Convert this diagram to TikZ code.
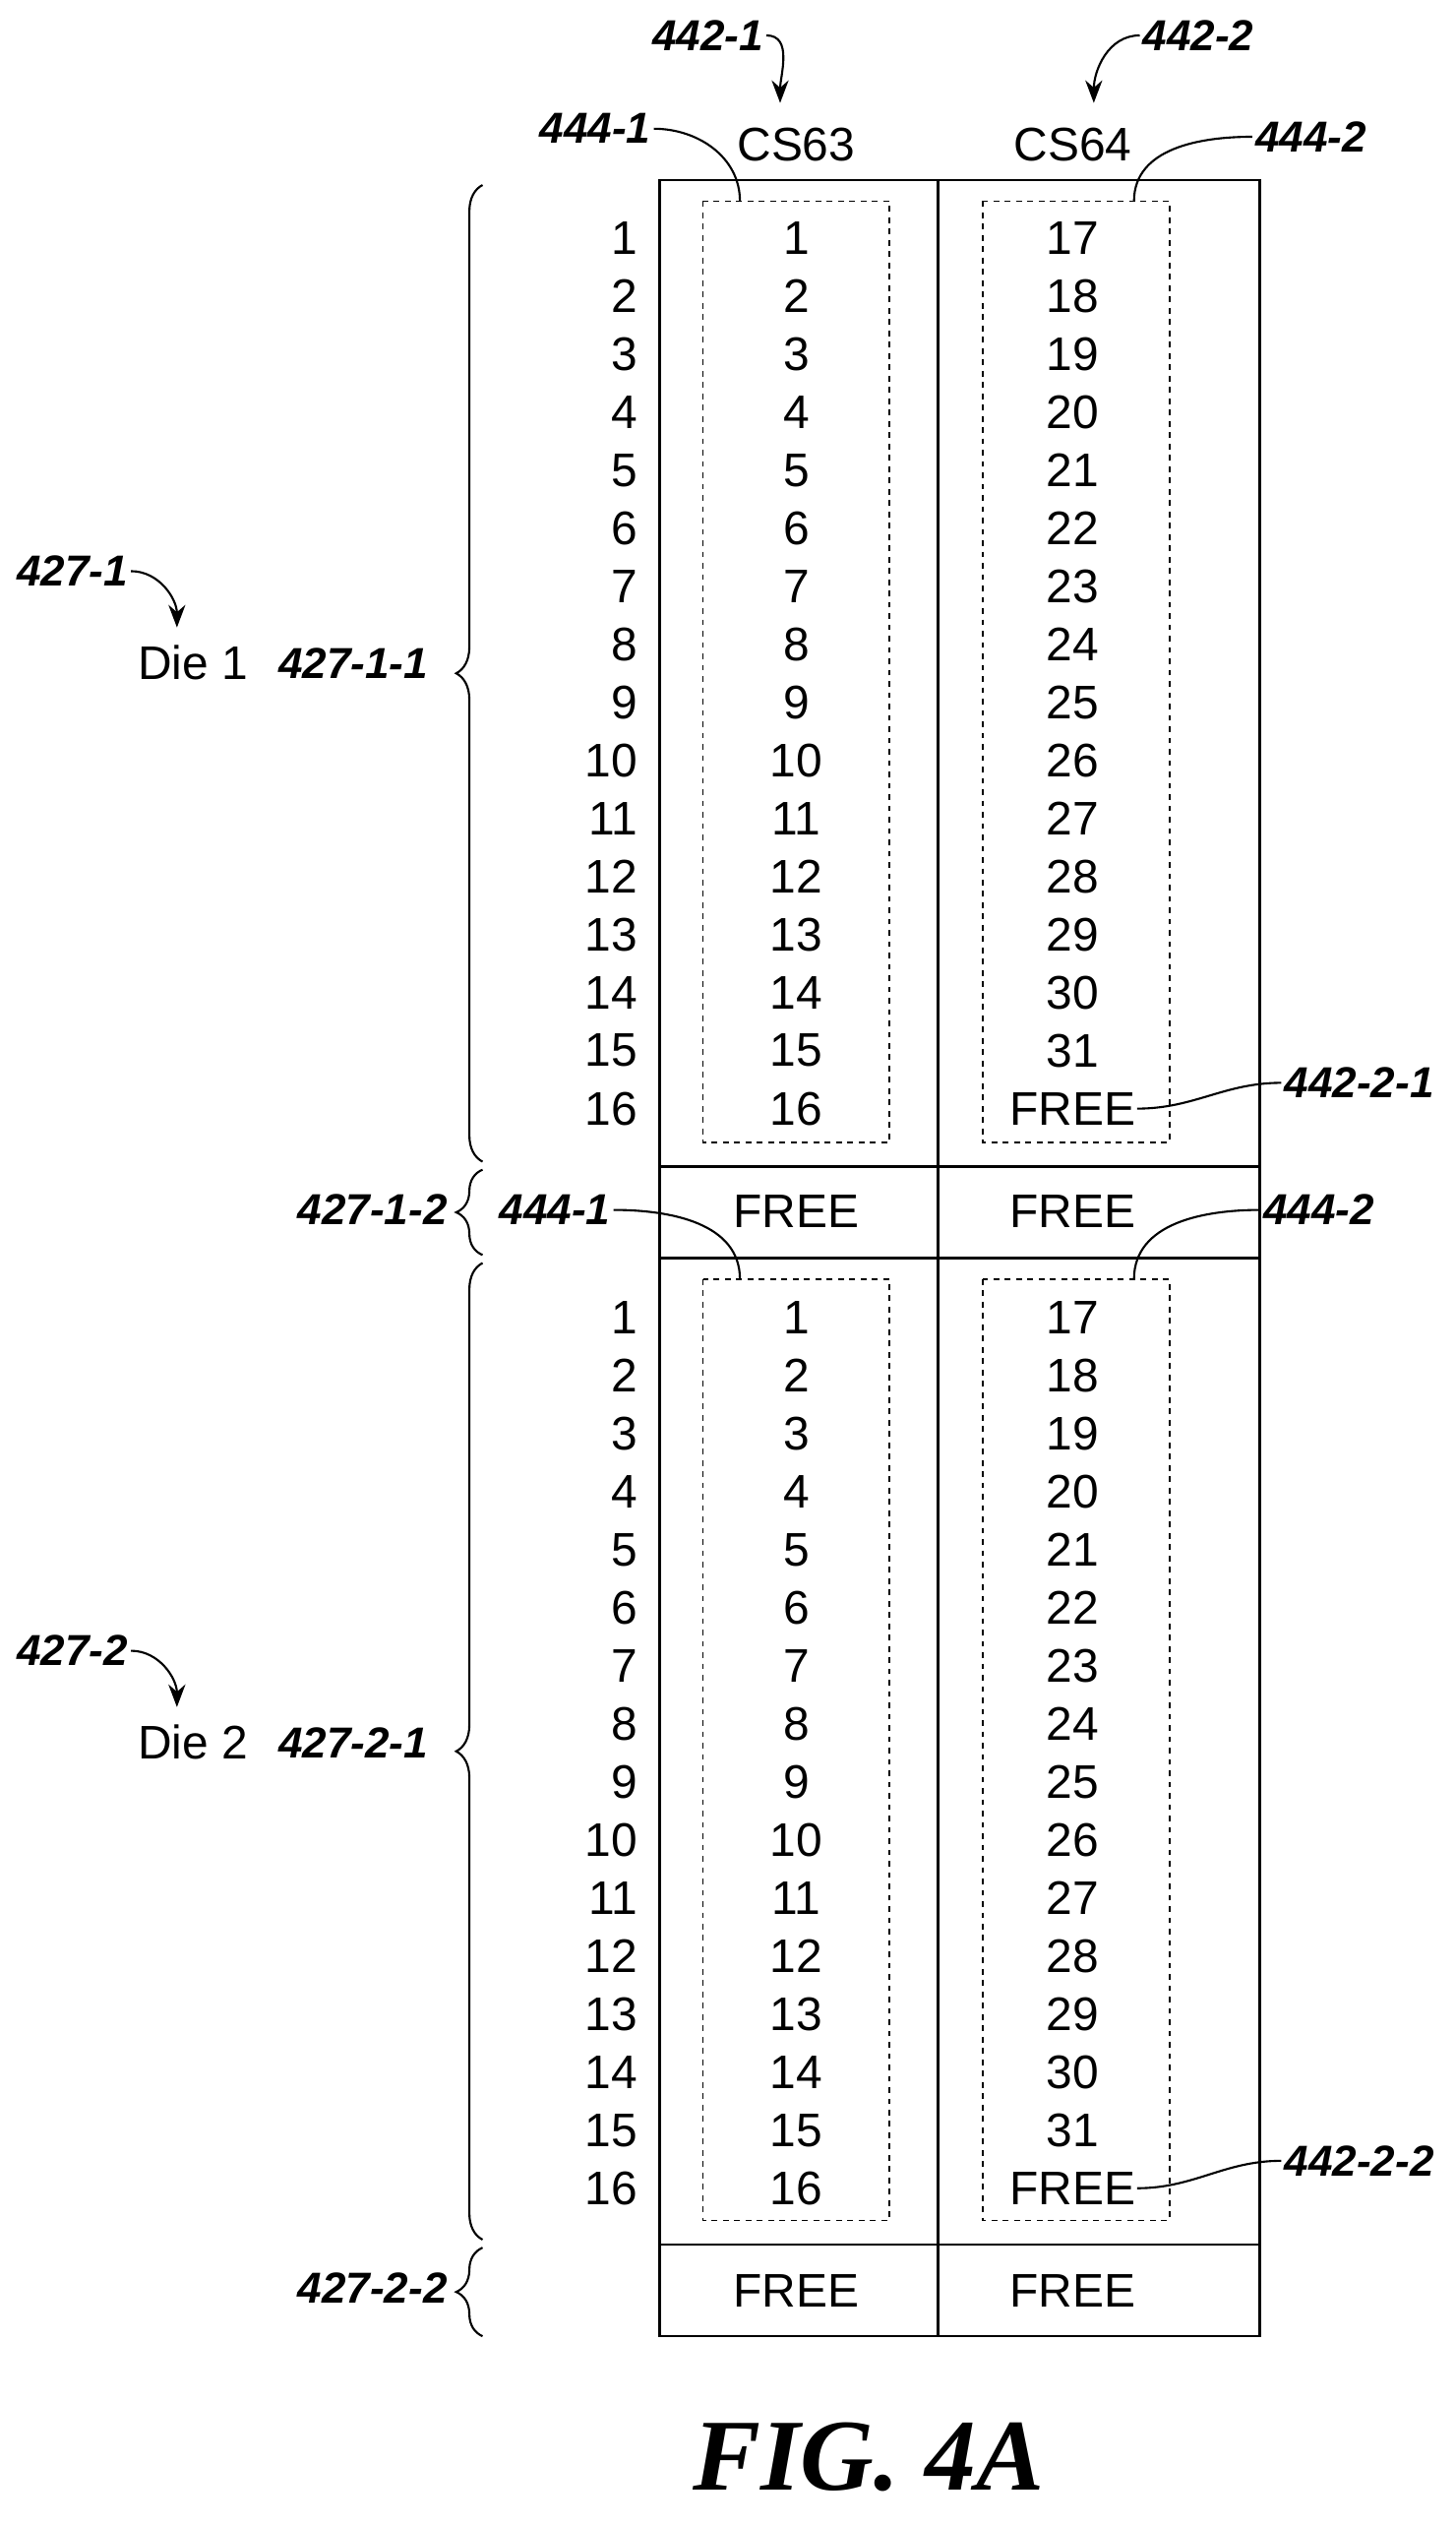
\documentclass[tikz,border=0pt]{standalone}
\usepackage{fontspec}
\setmainfont{Liberation Sans}
\newfontfamily\figfont{Liberation Serif}
\usetikzlibrary{decorations.pathreplacing,positioning,arrows.meta}

\tikzset{
  num/.style={font=\fontsize{25}{28}\selectfont,inner sep=0pt},
  ref/.style={font=\fontsize{23}{26}\selectfont\bfseries\itshape,inner sep=1pt},
  lead/.style={line width=1.1pt},
  brc/.style={decorate,decoration={brace,amplitude=14pt,raise=0pt},line width=1.1pt},
  dbox/.style={dashed,line width=0.9pt}
}

\begin{document}
\begin{tikzpicture}[x=0.03cm,y=-0.03cm,line width=1.4pt]
    \useasboundingbox (0,0) rectangle (905,1570);

    % outer table
    \draw (410,112) rectangle (783,1452);
    \draw (583,112) -- (583,1452);
    \draw (410,725) -- (783,725);
    \draw (410,782) -- (783,782);
    \draw (410,1395) -- (783,1395);

    % dashed groups
    \draw[dbox] (437,125) rectangle (553,710);
    \draw[dbox] (611,125) rectangle (727,710);
    \draw[dbox] (437,795) rectangle (553,1380);
    \draw[dbox] (611,795) rectangle (727,1380);

    % rows of both dies
    \foreach \d/\y in {1/148,2/819} {
        \foreach \i in {1,...,16} {
            \pgfmathsetmacro\yy{\y+(\i-1)*36.07}
            \pgfmathtruncatemacro\r{\i+16}
            \node[num,anchor=east] (row\d-\i) at (397,\yy) {\i};
            \node[num] (a\d-\i) at (495,\yy) {\i};
            \ifnum\i<16
                \node[num] (b\d-\i) at (667,\yy) {\r};
            \else
                \node[num] (b\d-\i) at (667,\yy) {FREE};
            \fi
        }
    }
    \node[num] (fa1) at (495,753) {FREE};
    \node[num] (fb1) at (667,753) {FREE};
    \node[num] (fa2) at (495,1424) {FREE};
    \node[num] (fb2) at (667,1424) {FREE};

    % column heads
    \node[num] (cs63) at (495,90) {CS63};
    \node[num] (cs64) at (667,90) {CS64};
    \node[ref] (r442a) at (440,22) {442-1};
    \node[ref] (r442b) at (745,22) {442-2};
    \draw[lead,-{Stealth[length=12pt,width=9pt]}] (r442a.east) to[out=0,in=90] (485,64);
    \draw[lead,-{Stealth[length=12pt,width=9pt]}] (r442b.west) to[out=180,in=90] (680,64);

    % group leaders
    \node[ref] (r444a) at (370,80) {444-1};
    \node[ref] (r444b) at (815,85) {444-2};
    \node[ref] (r444c) at (345,752) {444-1};
    \node[ref] (r444d) at (820,752) {444-2};
    \node[ref] (r4421) at (845,673) {442-2-1};
    \node[ref] (r4422) at (845,1343) {442-2-2};
    \coordinate (ga) at (460,125);
    \coordinate (gb) at (705,125);
    \coordinate (gc) at (460,795);
    \coordinate (gd) at (705,795);
    \draw[lead] (r444a.east) to[out=0,in=90] (ga);
    \draw[lead] (r444b.west) to[out=180,in=90] (gb);
    \draw[lead] (r444c.east) to[out=0,in=90] (gc);
    \draw[lead] (r444d.west) to[out=180,in=90] (gd);
    \draw[lead] (r4421.west) to[out=180,in=0] (b1-16.east);
    \draw[lead] (r4422.west) to[out=180,in=0] (b2-16.east);

    % braces
    \draw[brc] (300,722) -- (300,115);
    \draw[brc] (300,780) -- (300,727);
    \draw[brc] (300,1392) -- (300,785);
    \draw[brc] (300,1452) -- (300,1397);
    \node[ref,anchor=east] (r4271a) at (268,412) {427-1-1};
    \node[ref,anchor=east] (r4271b) at (280,752) {427-1-2};
    \node[ref,anchor=east] (r4272a) at (268,1083) {427-2-1};
    \node[ref,anchor=east] (r4272b) at (280,1422) {427-2-2};

    % dies
    \node[num] (die1) at (120,412) {Die 1};
    \node[num] (die2) at (120,1083) {Die 2};
    \node[ref] (r4271) at (45,355) {427-1};
    \node[ref] (r4272) at (45,1026) {427-2};
    \draw[lead,-{Stealth[length=12pt,width=9pt]}] (r4271.east) to[out=0,in=90] (110,390);
    \draw[lead,-{Stealth[length=12pt,width=9pt]}] (r4272.east) to[out=0,in=90] (110,1061);

    \node[font=\fontsize{54}{60}\selectfont\figfont\bfseries\itshape] (fig) at (540,1527) {FIG. 4A};
\end{tikzpicture}
\end{document}
